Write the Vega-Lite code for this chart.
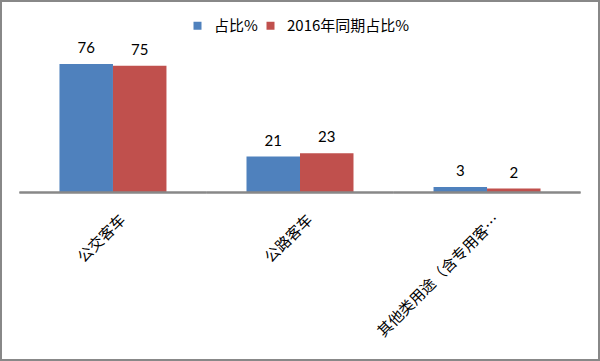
{
  "$schema": "https://vega.github.io/schema/vega-lite/v6.json",
  "width": 600,
  "height": 361,
  "padding": 0,
  "autosize": {"type": "none"},
  "background": "white",
  "data": {
    "values": [
      {"category": "公交客车", "series": "占比%", "value": 76},
      {"category": "公交客车", "series": "2016年同期占比%", "value": 75},
      {"category": "公路客车", "series": "占比%", "value": 21},
      {"category": "公路客车", "series": "2016年同期占比%", "value": 23},
      {"category": "其他类用途（含专用客…", "series": "占比%", "value": 3},
      {"category": "其他类用途（含专用客…", "series": "2016年同期占比%", "value": 2}
    ]
  },
  "layer": [
    {
      "mark": {"type": "bar"},
      "encoding": {
        "x": {
          "field": "category", "type": "nominal",
          "sort": ["公交客车", "公路客车", "其他类用途（含专用客…"],
          "scale": {"paddingInner": 0, "paddingOuter": 0.104},
          "axis": {
            "title": null, "domain": false, "ticks": false,
            "labelAngle": -45, "labelFontSize": 15,
            "labelFont": "Noto Sans CJK SC", "labelColor": "#000000",
            "labelPadding": 20, "labelOffset": 5, "offset": -169, "labelLimit": 300
          }
        },
        "xOffset": {
          "field": "series", "type": "nominal",
          "sort": ["占比%", "2016年同期占比%"],
          "scale": {"paddingInner": 0, "paddingOuter": 0.748}
        },
        "y": {
          "field": "value", "type": "quantitative",
          "scale": {"domain": [-100.4, 114.0], "nice": false, "zero": false},
          "axis": null
        },
        "color": {
          "field": "series", "type": "nominal",
          "sort": ["占比%", "2016年同期占比%"],
          "scale": {"domain": ["占比%", "2016年同期占比%"], "range": ["#4F81BD", "#C0504D"]},
          "legend": {
            "title": null, "orient": "none", "direction": "horizontal",
            "legendX": 190, "legendY": 18,
            "symbolType": "square", "symbolSize": 64, "symbolStrokeWidth": 0,
            "labelFontSize": 15, "labelFont": "Noto Sans CJK SC", "labelColor": "#000000",
            "labelOffset": 9, "columnPadding": 5
          }
        }
      }
    },
    {
      "mark": {"type": "text", "baseline": "bottom", "dy": -8, "fontSize": 15, "font": "Lato", "color": "#000000"},
      "encoding": {
        "x": {"field": "category", "type": "nominal", "sort": ["公交客车", "公路客车", "其他类用途（含专用客…"]},
        "xOffset": {"field": "series", "type": "nominal", "sort": ["占比%", "2016年同期占比%"]},
        "y": {"field": "value", "type": "quantitative"},
        "text": {"field": "value", "type": "quantitative"}
      }
    },
    {
      "mark": {"type": "rect", "color": "#888888"},
      "encoding": {
        "x": {"field": "category", "type": "nominal", "sort": ["公交客车", "公路客车", "其他类用途（含专用客…"]},
        "y": {"datum": 0.3},
        "y2": {"datum": -0.9}
      }
    }
  ],
  "config": {
    "view": {"stroke": "#888888", "strokeWidth": 4}
  }
}
